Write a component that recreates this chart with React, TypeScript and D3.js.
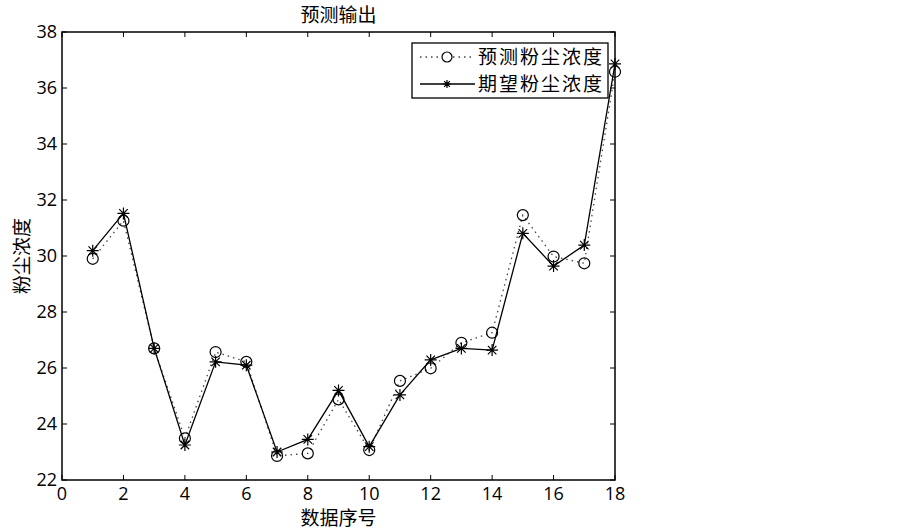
import React, { useEffect, useRef } from "react";
import * as d3 from "d3";

// data
const indices = [1, 2, 3, 4, 5, 6, 7, 8, 9, 10, 11, 12, 13, 14, 15, 16, 17, 18];
const predicted = [29.9, 31.26, 26.7, 23.49, 26.57, 26.22, 22.86, 22.95, 24.88, 23.07, 25.54, 25.99, 26.9, 27.26, 31.46, 29.98, 29.74, 36.58];
const expected = [30.19, 31.52, 26.7, 23.25, 26.22, 26.1, 23.0, 23.45, 25.2, 23.19, 25.04, 26.29, 26.7, 26.64, 30.81, 29.64, 30.39, 36.86];
const xTicks = [0, 2, 4, 6, 8, 10, 12, 14, 16, 18];
const yTicks = [22, 24, 26, 28, 30, 32, 34, 36, 38];
const seriesNames = ["预测粉尘浓度", "期望粉尘浓度"];
const title = "预测输出";
const xLabel = "数据序号";
const yLabel = "粉尘浓度";

const W = 903;
const H = 532;
const plot = { left: 62, right: 615, top: 32, bottom: 480 };
const cjk = "'Noto Sans CJK SC', sans-serif";
const num = "'Open Sans', 'Noto Sans', sans-serif";

const drawStar = (g: any, cx: number, cy: number, r: number) => {
  const p = d3.path();
  for (let i = 0; i < 4; i++) {
    const a = (Math.PI / 4) * i;
    p.moveTo(cx - r * Math.cos(a), cy - r * Math.sin(a));
    p.lineTo(cx + r * Math.cos(a), cy + r * Math.sin(a));
  }
  g.append("path").attr("d", p.toString()).attr("stroke", "#000").attr("stroke-width", 1.2).attr("fill", "none");
};

const Chart = () => {
  const svgRef = useRef<SVGSVGElement>(null);

  useEffect(() => {
    const svg = d3.select(svgRef.current);
    svg.selectAll("*").remove();

    const x = d3.scaleLinear().domain([0, 18]).range([plot.left, plot.right]);
    const y = d3.scaleLinear().domain([22, 38]).range([plot.bottom, plot.top]);

    // frame with inward ticks on all sides
    svg.append("rect")
      .attr("x", plot.left).attr("y", plot.top)
      .attr("width", plot.right - plot.left).attr("height", plot.bottom - plot.top)
      .attr("fill", "none").attr("stroke", "#000").attr("stroke-width", 1.5);

    const tickLen = 5;
    xTicks.forEach((t) => {
      svg.append("line").attr("x1", x(t)).attr("x2", x(t)).attr("y1", plot.bottom).attr("y2", plot.bottom - tickLen).attr("stroke", "#000");
      svg.append("line").attr("x1", x(t)).attr("x2", x(t)).attr("y1", plot.top).attr("y2", plot.top + tickLen).attr("stroke", "#000");
      svg.append("text").attr("x", x(t)).attr("y", plot.bottom + 20)
        .attr("text-anchor", "middle").attr("font-family", num).attr("font-size", 18).text(t);
    });
    yTicks.forEach((t) => {
      svg.append("line").attr("x1", plot.left).attr("x2", plot.left + tickLen).attr("y1", y(t)).attr("y2", y(t)).attr("stroke", "#000");
      svg.append("line").attr("x1", plot.right).attr("x2", plot.right - tickLen).attr("y1", y(t)).attr("y2", y(t)).attr("stroke", "#000");
      svg.append("text").attr("x", plot.left - 5).attr("y", y(t)).attr("dy", "0.35em")
        .attr("text-anchor", "end").attr("font-family", num).attr("font-size", 18).text(t);
    });

    svg.append("text").attr("x", (plot.left + plot.right) / 2).attr("y", 22)
      .attr("text-anchor", "middle").attr("font-family", cjk).attr("font-size", 19).text(title);
    svg.append("text").attr("x", (plot.left + plot.right) / 2).attr("y", 525)
      .attr("text-anchor", "middle").attr("font-family", cjk).attr("font-size", 19).text(xLabel);
    svg.append("text").attr("transform", `translate(29,${(plot.top + plot.bottom) / 2}) rotate(-90)`)
      .attr("text-anchor", "middle").attr("font-family", cjk).attr("font-size", 19).text(yLabel);

    const line = d3.line<number>().x((d, i) => x(indices[i])).y((d) => y(d));

    svg.append("path").attr("d", line(predicted)).attr("fill", "none")
      .attr("stroke", "#444").attr("stroke-width", 1.3).attr("stroke-dasharray", "1.5,4");
    svg.append("path").attr("d", line(expected)).attr("fill", "none")
      .attr("stroke", "#000").attr("stroke-width", 1.3);

    predicted.forEach((v, i) => {
      svg.append("circle").attr("cx", x(indices[i])).attr("cy", y(v)).attr("r", 5.5)
        .attr("fill", "none").attr("stroke", "#000").attr("stroke-width", 1.2);
    });
    expected.forEach((v, i) => drawStar(svg, x(indices[i]), y(v), 6));

    // legend
    const lg = svg.append("g");
    lg.append("rect").attr("x", 412).attr("y", 43).attr("width", 196).attr("height", 55)
      .attr("fill", "#fff").attr("stroke", "#000").attr("stroke-width", 1.3);
    const rows = [57, 84];
    lg.append("line").attr("x1", 420).attr("x2", 475).attr("y1", rows[0]).attr("y2", rows[0])
      .attr("stroke", "#444").attr("stroke-width", 1.3).attr("stroke-dasharray", "1.5,4");
    lg.append("circle").attr("cx", 447).attr("cy", rows[0]).attr("r", 5).attr("fill", "#fff").attr("stroke", "#000").attr("stroke-width", 1.2);
    lg.append("line").attr("x1", 420).attr("x2", 475).attr("y1", rows[1]).attr("y2", rows[1])
      .attr("stroke", "#000").attr("stroke-width", 1.3);
    drawStar(lg, 447, rows[1], 4);
    seriesNames.forEach((n, i) => {
      lg.append("text").attr("x", 478).attr("y", rows[i]).attr("dy", "0.36em")
        .attr("font-family", cjk).attr("font-size", 19).attr("letter-spacing", 2).text(n);
    });
  }, []);

  return <svg ref={svgRef} width={W} height={H} style={{ display: "block" }} />;
};

const App = () => (
  <div style={{ position: "absolute", left: 0, top: 0, background: "#fff" }}>
    <Chart />
  </div>
);

export default App;
